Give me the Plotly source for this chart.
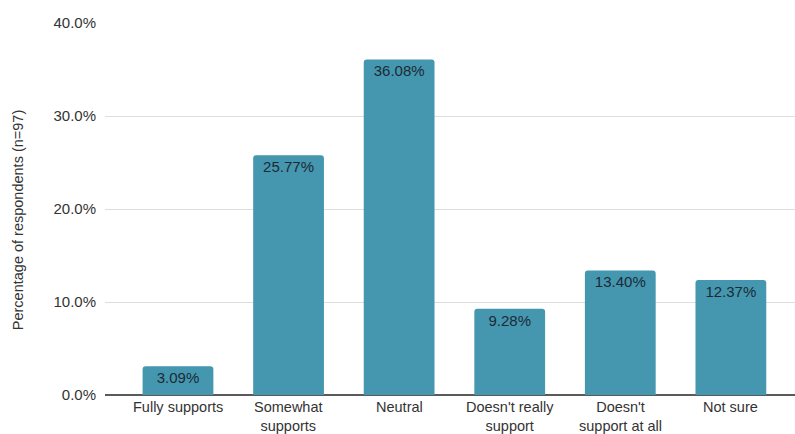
import plotly.graph_objects as go

categories = ["Fully supports", "Somewhat\nsupports", "Neutral",
              "Doesn't really\nsupport", "Doesn't\nsupport at all", "Not sure"]
values = [3.09, 25.77, 36.08, 9.28, 13.40, 12.37]
labels = ["3.09%", "25.77%", "36.08%", "9.28%", "13.40%", "12.37%"]
y_ticks = [0, 10, 20, 30, 40]
y_tick_labels = ["0.0%", "10.0%", "20.0%", "30.0%", "40.0%"]

FONT = "Liberation Sans, Arial, sans-serif"
TXT = "#333333"

xs = list(range(len(categories)))

fig = go.Figure(go.Bar(
    x=xs,
    y=values,
    text=labels,
    textposition="inside",
    insidetextanchor="end",
    textangle=0,
    textfont=dict(family=FONT, size=15, color="#1c2a36"),
    marker=dict(color="#4597AF", cornerradius=3, line=dict(width=0)),
    width=0.64,
    hoverinfo="skip",
))

annotations = []
for i, cat in enumerate(categories):
    annotations.append(dict(
        x=i, xref="x", y=0, yref="paper", yshift=-3,
        text=cat.replace("\n", "<br>"), showarrow=False,
        xanchor="center", yanchor="top", align="center", borderpad=0,
        font=dict(family=FONT, size=14.5, color=TXT),
    ))
annotations.append(dict(
    x=-0.126, xref="paper", y=0.47, yref="paper",
    text="Percentage of respondents (n=97)", textangle=-90, showarrow=False,
    xanchor="center", yanchor="middle",
    font=dict(family=FONT, size=14.5, color=TXT),
))

fig.update_layout(
    width=795, height=434,
    margin=dict(l=105, r=0, t=23, b=39, autoexpand=False),
    paper_bgcolor="white", plot_bgcolor="white",
    showlegend=False,
    font=dict(family=FONT, size=15, color=TXT),
    annotations=annotations,
)
fig.update_xaxes(
    tickmode="array", tickvals=xs, ticktext=[c.replace("\n", " ") for c in categories],
    showticklabels=False, automargin=False,
    range=[-0.66, 5.58],
    showgrid=False, showline=False, zeroline=False, ticks="",
)
fig.update_yaxes(
    range=[0, 40], tickmode="array", tickvals=y_ticks, ticktext=y_tick_labels,
    showgrid=True, gridcolor="#dedede", gridwidth=1,
    zeroline=True, zerolinecolor="#5a5a5a", zerolinewidth=1.5,
    showline=False, ticks="", ticklabelstandoff=8, automargin=False,
    tickfont=dict(family=FONT, size=15, color=TXT),
)

fig.write_html(
    "out.html",
    config={"displayModeBar": False},
    post_script="document.body.style.margin='0';document.body.style.overflow='hidden';",
)
